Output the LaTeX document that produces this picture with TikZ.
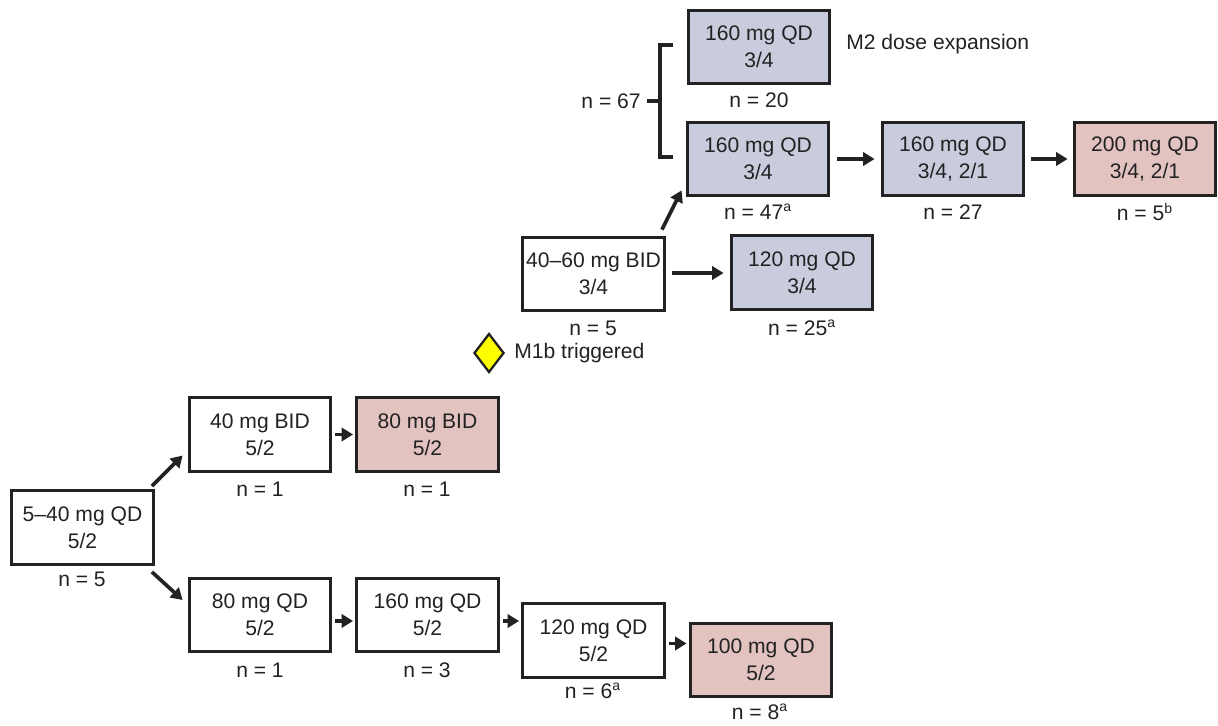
\documentclass[tikz,border=0pt]{standalone}
\usepackage{fontspec}
\setmainfont{Liberation Sans}
\usetikzlibrary{arrows.meta,shapes.geometric,calc}
\definecolor{boxblue}{HTML}{C8CCDD}
\definecolor{boxpink}{HTML}{E2C3C0}
\definecolor{ink}{HTML}{222222}
\definecolor{diayellow}{HTML}{FFFF00}
\begin{document}
\begin{tikzpicture}[x=0.02cm,y=-0.02cm,
  box/.style={draw=ink, line width=1.9pt, minimum width=2.83cm, minimum height=1.47cm,
    inner sep=0pt, align=center, font=\fontsize{12}{15.3}\selectfont, text=ink},
  white box/.style={box, fill=white},
  blue box/.style={box, fill=boxblue},
  pink box/.style={box, fill=boxpink},
  nlab/.style={inner sep=0pt, font=\fontsize{12}{14}\selectfont, text=ink},
  arr/.style={draw=ink, line width=2.1pt, -{Triangle[length=6.5pt,width=7.5pt]}},
  brk/.style={draw=ink, line width=2.1pt}
]
\useasboundingbox (0,0) rectangle (1218,726);

% boxes
\node[white box] (q540) at (82.5,527.5) {5--40 mg QD\\5/2};
\node[white box] (b40) at (260,434.5) {40 mg BID\\5/2};
\node[pink box] (b80) at (427.5,434.5) {80 mg BID\\5/2};
\node[white box] (q80) at (260,615) {80 mg QD\\5/2};
\node[white box] (q160w) at (427.5,615) {160 mg QD\\5/2};
\node[white box] (q120w) at (593.5,640.5) {120 mg QD\\5/2};
\node[pink box] (q100) at (761,660) {100 mg QD\\5/2};
\node[white box] (b4060) at (593.5,274) {40--60 mg BID\\3/4};
\node[blue box] (q120b) at (802,272.5) {120 mg QD\\3/4};
\node[blue box] (q160top) at (759,47) {160 mg QD\\3/4};
\node[blue box] (q160mid) at (758,159) {160 mg QD\\3/4};
\node[blue box] (q160r) at (953,159) {160 mg QD\\3/4, 2/1};
\node[pink box] (q200) at (1145,159) {200 mg QD\\3/4, 2/1};

% n labels
\node[nlab] (n1) at (82,579) {n = 5};
\node[nlab] (n2) at (260,489) {n = 1};
\node[nlab] (n3) at (427,489) {n = 1};
\node[nlab] (n4) at (260,670) {n = 1};
\node[nlab] (n5) at (427,670) {n = 3};
\node[nlab] (n6) at (593,691) {n = 6\textsuperscript{a}};
\node[nlab] (n7) at (760,712) {n = 8\textsuperscript{a}};
\node[nlab] (n8) at (593,328) {n = 5};
\node[nlab] (n9) at (802,328) {n = 25\textsuperscript{a}};
\node[nlab] (n10) at (759,100) {n = 20};
\node[nlab] (n11) at (758,212) {n = 47\textsuperscript{a}};
\node[nlab] (n12) at (953,212) {n = 27};
\node[nlab] (n13) at (1145,212) {n = 5\textsuperscript{b}};

% M1b
\node[diamond, draw=ink, fill=diayellow, line width=1.3pt, minimum width=0.6cm, minimum height=0.78cm, inner sep=0pt] (dia) at (489,353) {};
\node[nlab, anchor=west] (m1b) at (514,353) {M1b triggered};

% M2
\node[nlab, anchor=west] (m2) at (846,44) {M2 dose expansion};

% bracket
\coordinate (bt) at (673,45);
\coordinate (bb) at (673,157);
\coordinate (bm) at (660,101);
\draw[brk] (bt) -- (bt -| bm) -- (bb -| bm) -- (bb);
\node[nlab, anchor=east] (n67) at (641,101) {n = 67};
\draw[brk] (n67.east) ++(6,0) coordinate (bl) -- (bm);

% arrows
\draw[arr] ($(q540.north east)+(-3,-3)$) -- ($(b40.west)+(-5,21)$);
\draw[arr] ($(q540.south east)+(-3,6)$) -- ($(q80.west)+(-5,-15)$);
\draw[arr] ($(b40.east)+(3,0)$) -- ($(b80.west)+(-2,0)$);
\draw[arr] ($(q80.east)+(3,6)$) -- ($(q160w.west)+(-2,6)$);
\draw[arr] ($(q160w.east)+(3,6)$) -- ($(q160w.east -| q120w.west)+(-2,6)$);
\draw[arr] ($(q120w.east)+(3,3)$) -- ($(q120w.east -| q100.west)+(-2,3)$);
\draw[arr] ($(b4060.east)+(6,-1)$) -- ($(b4060.east -| q120b.west)+(-6,-1)$);
\draw[arr] ($(b4060.north east)+(-4,-6)$) -- ($(q160mid.south west)+(-4,-7)$);
\draw[arr] ($(q160mid.east)+(7,0)$) -- ($(q160r.west)+(-6,0)$);
\draw[arr] ($(q160r.east)+(6,0)$) -- ($(q200.west)+(-5,0)$);
\end{tikzpicture}
\end{document}
